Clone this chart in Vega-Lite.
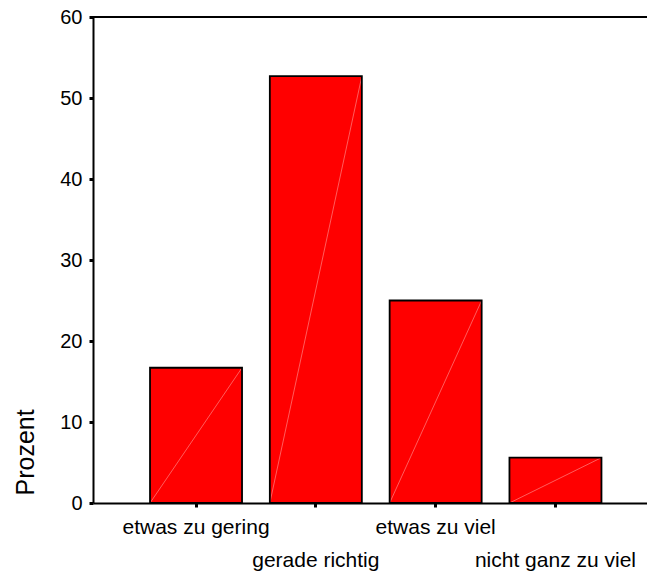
{
  "$schema": "https://vega.github.io/schema/vega-lite/v6.json",
  "autosize": "none",
  "padding": {"left": 93, "top": 17, "right": 0, "bottom": 69},
  "width": 554,
  "height": 486,
  "config": {"view": {"stroke": null}, "font": "Liberation Sans"},
  "data": {"values": [
    {"Kategorie": "etwas zu gering", "Prozent": 16.7},
    {"Kategorie": "gerade richtig", "Prozent": 52.7},
    {"Kategorie": "etwas zu viel", "Prozent": 25.0},
    {"Kategorie": "nicht ganz zu viel", "Prozent": 5.6}
  ]},
  "layer": [
    {
      "mark": {"type": "bar", "color": "#ff0000"},
      "encoding": {
        "x": {
          "field": "Kategorie", "type": "nominal", "sort": null,
          "scale": {"paddingInner": 0.232, "paddingOuter": 0.428, "align": 0.556},
          "axis": {
            "title": null, "labelAngle": 0, "labelFontSize": 21, "labelColor": "#000",
            "labelFont": "Liberation Sans",
            "labelBaseline": "alphabetic",
            "labelPadding": {"condition": {"test": "datum.value === 'gerade richtig' || datum.value === 'nicht ganz zu viel'", "value": 59}, "value": 26},
            "tickSize": 4, "tickWidth": 3, "tickColor": "#000",
            "domainColor": "#000", "domainWidth": 2,
            "labelOverlap": false
          }
        },
        "y": {
          "field": "Prozent", "type": "quantitative",
          "scale": {"domain": [0, 60], "nice": false},
          "axis": {
            "title": "Prozent", "titleFontSize": 25, "titleFontWeight": "normal", "titleColor": "#000",
            "titleFont": "Liberation Sans",
            "titleAngle": -90, "titleAlign": "left", "titleBaseline": "alphabetic",
            "titleX": -60, "titleY": 478,
            "values": [0, 10, 20, 30, 40, 50, 60],
            "labelFontSize": 20, "labelColor": "#000", "labelFont": "Liberation Sans",
            "labelPadding": 7, "tickSize": 4, "tickWidth": 3, "tickColor": "#000",
            "domainColor": "#000", "domainWidth": 2, "grid": false
          }
        }
      }
    },
    {
      "mark": {"type": "rule", "color": "#ff9a9a", "strokeWidth": 0.6},
      "encoding": {
        "x": {"field": "Kategorie", "type": "nominal", "sort": null, "bandPosition": 1},
        "x2": {"field": "Kategorie", "bandPosition": 0},
        "y": {"field": "Prozent", "type": "quantitative"},
        "y2": {"datum": 0}
      }
    },
    {
      "mark": {"type": "bar", "fillOpacity": 0, "stroke": "#000", "strokeWidth": 1.8},
      "encoding": {
        "x": {"field": "Kategorie", "type": "nominal", "sort": null},
        "y": {"field": "Prozent", "type": "quantitative"}
      }
    },
    {
      "mark": {"type": "rule", "color": "#000", "strokeWidth": 2},
      "encoding": {
        "y": {"datum": 60, "type": "quantitative"}
      }
    }
  ]
}
